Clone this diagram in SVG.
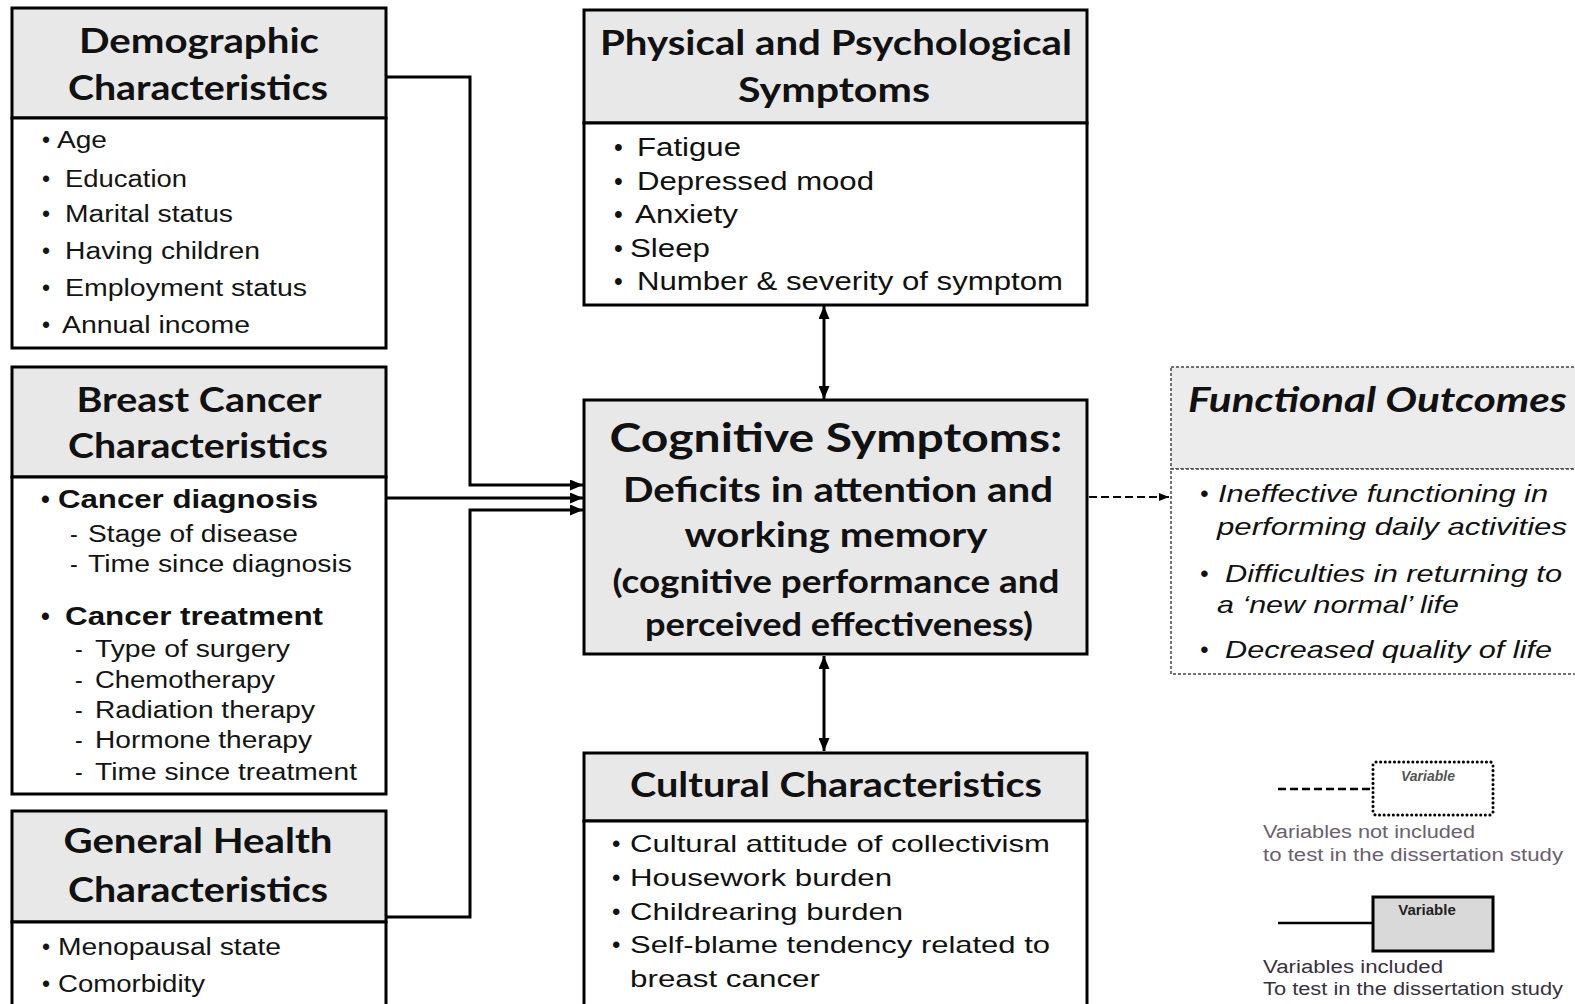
<svg xmlns="http://www.w3.org/2000/svg" width="1575" height="1004" viewBox="0 0 1575 1004">
<defs>
<style>
.box{fill:#ffffff;stroke:#000;stroke-width:3}
.hdr{fill:#e8e8e8;stroke:#000;stroke-width:3}
.h{font-family:Lato,"Liberation Sans",sans-serif;font-weight:bold;font-size:35px;fill:#111;text-anchor:middle}
.b{font-family:"Liberation Sans",Arial,sans-serif;font-size:23px;fill:#141414}
.bb{font-family:"Liberation Sans",Arial,sans-serif;font-size:25px;font-weight:bold;fill:#111}
.p{font-family:"Liberation Sans",Arial,sans-serif;font-size:25px;fill:#111}
.fi{font-family:"Liberation Sans",Arial,sans-serif;font-size:24px;font-style:italic;fill:#111}
.line{fill:none;stroke:#000;stroke-width:3}
.lg1{font-family:"Liberation Sans",Arial,sans-serif;font-size:18px;fill:#6a6070}
.lg2{font-family:"Liberation Sans",Arial,sans-serif;font-size:18px;fill:#3a3040}
</style>
<marker id="ah" viewBox="0 0 13 11" refX="13" refY="5.5" markerWidth="13" markerHeight="11" markerUnits="userSpaceOnUse" orient="auto-start-reverse">
<path d="M0,0 L13,5.5 L0,11 z" fill="#000"/>
</marker>
<marker id="ahs" viewBox="0 0 10 8" refX="10" refY="4" markerWidth="10" markerHeight="8" markerUnits="userSpaceOnUse" orient="auto">
<path d="M0,0 L10,4 L0,8 z" fill="#000"/>
</marker>
</defs>
<rect width="1575" height="1004" fill="#fff"/>

<g id="connectors">
<polyline class="line" points="386,77 470,77 470,485 583,485" marker-end="url(#ah)"/>
<line class="line" x1="386" y1="498" x2="583" y2="498" marker-end="url(#ah)"/>
<polyline class="line" points="386,917 470,917 470,510 583,510" marker-end="url(#ah)"/>
<line class="line" x1="824" y1="306" x2="824" y2="399" marker-start="url(#ah)" marker-end="url(#ah)"/>
<line class="line" x1="824" y1="656" x2="824" y2="751" marker-start="url(#ah)" marker-end="url(#ah)"/>
<line x1="1089" y1="497" x2="1169" y2="497" stroke="#000" stroke-width="2" stroke-dasharray="8,4" marker-end="url(#ahs)"/>
</g>

<g id="demographic">
<rect class="hdr" x="12" y="8" width="374" height="110"/>
<rect class="box" x="12" y="118" width="374" height="230"/>
<text class="h" x="199" y="53" textLength="240" lengthAdjust="spacingAndGlyphs">Demographic</text>
<text class="h" x="198" y="100" textLength="260" lengthAdjust="spacingAndGlyphs">Characteristics</text>
<g class="b">
<text x="42" y="148">•</text><text x="57" y="148" textLength="50" lengthAdjust="spacingAndGlyphs">Age</text>
<text x="42" y="187">•</text><text x="65" y="187" textLength="122" lengthAdjust="spacingAndGlyphs">Education</text>
<text x="42" y="222">•</text><text x="65" y="222" textLength="168" lengthAdjust="spacingAndGlyphs">Marital  status</text>
<text x="42" y="259">•</text><text x="65" y="259" textLength="195" lengthAdjust="spacingAndGlyphs">Having  children</text>
<text x="42" y="296">•</text><text x="65" y="296" textLength="242" lengthAdjust="spacingAndGlyphs">Employment  status</text>
<text x="42" y="333">•</text><text x="62" y="333" textLength="188" lengthAdjust="spacingAndGlyphs">Annual  income</text>
</g>
</g>

<g id="breast-cancer">
<rect class="hdr" x="12" y="367" width="374" height="110"/>
<rect class="box" x="12" y="477" width="374" height="317"/>
<text class="h" x="199" y="412" textLength="245" lengthAdjust="spacingAndGlyphs">Breast Cancer</text>
<text class="h" x="198" y="458" textLength="260" lengthAdjust="spacingAndGlyphs">Characteristics</text>
<text class="bb" x="41" y="508">•</text><text class="bb" x="58" y="508" textLength="260" lengthAdjust="spacingAndGlyphs">Cancer diagnosis</text>
<g class="b">
<text x="70" y="542">-</text><text x="88" y="542" textLength="210" lengthAdjust="spacingAndGlyphs">Stage  of  disease</text>
<text x="70" y="572">-</text><text x="88" y="572" textLength="264" lengthAdjust="spacingAndGlyphs">Time  since  diagnosis</text>
</g>
<text class="bb" x="41" y="625">•</text><text class="bb" x="65" y="625" textLength="258" lengthAdjust="spacingAndGlyphs">Cancer treatment</text>
<g class="b">
<text x="75" y="657">-</text><text x="95" y="657" textLength="195" lengthAdjust="spacingAndGlyphs">Type  of  surgery</text>
<text x="75" y="688">-</text><text x="95" y="688" textLength="180" lengthAdjust="spacingAndGlyphs">Chemotherapy</text>
<text x="75" y="718">-</text><text x="95" y="718" textLength="220" lengthAdjust="spacingAndGlyphs">Radiation  therapy</text>
<text x="75" y="748">-</text><text x="95" y="748" textLength="217" lengthAdjust="spacingAndGlyphs">Hormone  therapy</text>
<text x="75" y="780">-</text><text x="95" y="780" textLength="262" lengthAdjust="spacingAndGlyphs">Time  since  treatment</text>
</g>
</g>

<g id="general-health">
<rect class="hdr" x="12" y="811" width="374" height="111"/>
<rect class="box" x="12" y="922" width="374" height="90"/>
<text class="h" x="198" y="853" textLength="269" lengthAdjust="spacingAndGlyphs">General Health</text>
<text class="h" x="198" y="902" textLength="260" lengthAdjust="spacingAndGlyphs">Characteristics</text>
<g class="b">
<text x="42" y="955">•</text><text x="58" y="955" textLength="223" lengthAdjust="spacingAndGlyphs">Menopausal  state</text>
<text x="42" y="992">•</text><text x="58" y="992" textLength="147" lengthAdjust="spacingAndGlyphs">Comorbidity</text>
</g>
</g>

<g id="physical-psychological">
<rect class="hdr" x="584" y="10" width="503" height="113"/>
<rect class="box" x="584" y="123" width="503" height="182"/>
<text class="h" x="836" y="55" textLength="472" lengthAdjust="spacingAndGlyphs">Physical and Psychological</text>
<text class="h" x="834" y="102" textLength="192" lengthAdjust="spacingAndGlyphs">Symptoms</text>
<g class="p">
<text x="614" y="156">•</text><text x="637" y="156" textLength="104" lengthAdjust="spacingAndGlyphs">Fatigue</text>
<text x="614" y="190">•</text><text x="637" y="190" textLength="237" lengthAdjust="spacingAndGlyphs">Depressed mood</text>
<text x="614" y="223">•</text><text x="635" y="223" textLength="103" lengthAdjust="spacingAndGlyphs">Anxiety</text>
<text x="614" y="257">•</text><text x="630" y="257" textLength="80" lengthAdjust="spacingAndGlyphs">Sleep</text>
<text x="614" y="290">•</text><text x="637" y="290" textLength="426" lengthAdjust="spacingAndGlyphs">Number &amp; severity of symptom</text>
</g>
</g>

<g id="cognitive">
<rect class="hdr" x="584" y="400" width="503" height="254"/>
<text class="h" x="836" y="452" style="font-size:40px" textLength="453" lengthAdjust="spacingAndGlyphs">Cognitive Symptoms:</text>
<text class="h" x="838" y="502" textLength="430" lengthAdjust="spacingAndGlyphs">Deficits in attention and</text>
<text class="h" x="836" y="547" textLength="303" lengthAdjust="spacingAndGlyphs">working memory</text>
<text class="h" x="836" y="593" style="font-size:33px" textLength="447" lengthAdjust="spacingAndGlyphs">(cognitive performance and</text>
<text class="h" x="839" y="636" style="font-size:33px" textLength="388" lengthAdjust="spacingAndGlyphs">perceived effectiveness)</text>
</g>

<g id="cultural">
<rect class="hdr" x="584" y="753" width="503" height="68"/>
<rect class="box" x="584" y="821" width="503" height="190"/>
<text class="h" x="836" y="797" textLength="412" lengthAdjust="spacingAndGlyphs">Cultural Characteristics</text>
<g class="p" style="font-size:24px">
<text x="612" y="852">•</text><text x="630" y="852" textLength="420" lengthAdjust="spacingAndGlyphs">Cultural attitude of collectivism</text>
<text x="612" y="886">•</text><text x="630" y="886" textLength="262" lengthAdjust="spacingAndGlyphs">Housework burden</text>
<text x="612" y="920">•</text><text x="630" y="920" textLength="273" lengthAdjust="spacingAndGlyphs">Childrearing burden</text>
<text x="612" y="953">•</text><text x="630" y="953" textLength="420" lengthAdjust="spacingAndGlyphs">Self-blame tendency related to</text>
<text x="630" y="987" textLength="190" lengthAdjust="spacingAndGlyphs">breast cancer</text>
</g>
</g>

<g id="functional-outcomes">
<rect x="1171" y="367" width="410" height="102" fill="#ececec" stroke="#444" stroke-width="1.5" stroke-dasharray="3,2"/>
<rect x="1171" y="469" width="410" height="205" fill="#fff" stroke="#444" stroke-width="1.5" stroke-dasharray="3,2"/>
<text class="h" x="1188" y="412" style="font-style:italic;text-anchor:start" textLength="379" lengthAdjust="spacingAndGlyphs">Functional Outcomes</text>
<g class="fi">
<text x="1200" y="502">•</text><text x="1218" y="502" textLength="330" lengthAdjust="spacingAndGlyphs">Ineffective functioning in</text>
<text x="1217" y="535" textLength="350" lengthAdjust="spacingAndGlyphs">performing daily activities</text>
<text x="1200" y="582">•</text><text x="1225" y="582" textLength="337" lengthAdjust="spacingAndGlyphs">Difficulties in  returning to</text>
<text x="1217" y="613" textLength="242" lengthAdjust="spacingAndGlyphs">a ‘new normal’ life</text>
<text x="1200" y="658">•</text><text x="1225" y="658" textLength="327" lengthAdjust="spacingAndGlyphs">Decreased quality of life</text>
</g>
</g>

<g id="legend">
<line x1="1278" y1="789" x2="1372" y2="789" stroke="#000" stroke-width="2.5" stroke-dasharray="8,4"/>
<rect x="1373" y="762" width="120" height="53" rx="3" fill="#fff" stroke="#000" stroke-width="3" stroke-dasharray="0.1,4.5" stroke-linecap="round"/>
<text x="1428" y="781" font-family="'Liberation Sans',Arial,sans-serif" font-size="14" font-weight="bold" font-style="italic" fill="#555" text-anchor="middle">Variable</text>
<text class="lg1" x="1263" y="838" textLength="212" lengthAdjust="spacingAndGlyphs">Variables not included</text>
<text class="lg1" x="1263" y="861" textLength="300" lengthAdjust="spacingAndGlyphs">to test in the  dissertation study</text>
<line x1="1278" y1="923" x2="1373" y2="923" stroke="#000" stroke-width="2.5"/>
<rect x="1373" y="897" width="120" height="54" fill="#d9d9d9" stroke="#000" stroke-width="3"/>
<text x="1427" y="915" font-family="'Liberation Sans',Arial,sans-serif" font-size="15" font-weight="bold" fill="#222" text-anchor="middle">Variable</text>
<text class="lg2" x="1263" y="973" textLength="180" lengthAdjust="spacingAndGlyphs">Variables included</text>
<text class="lg2" x="1263" y="995" textLength="300" lengthAdjust="spacingAndGlyphs">To test in the dissertation study</text>
</g>
</svg>
